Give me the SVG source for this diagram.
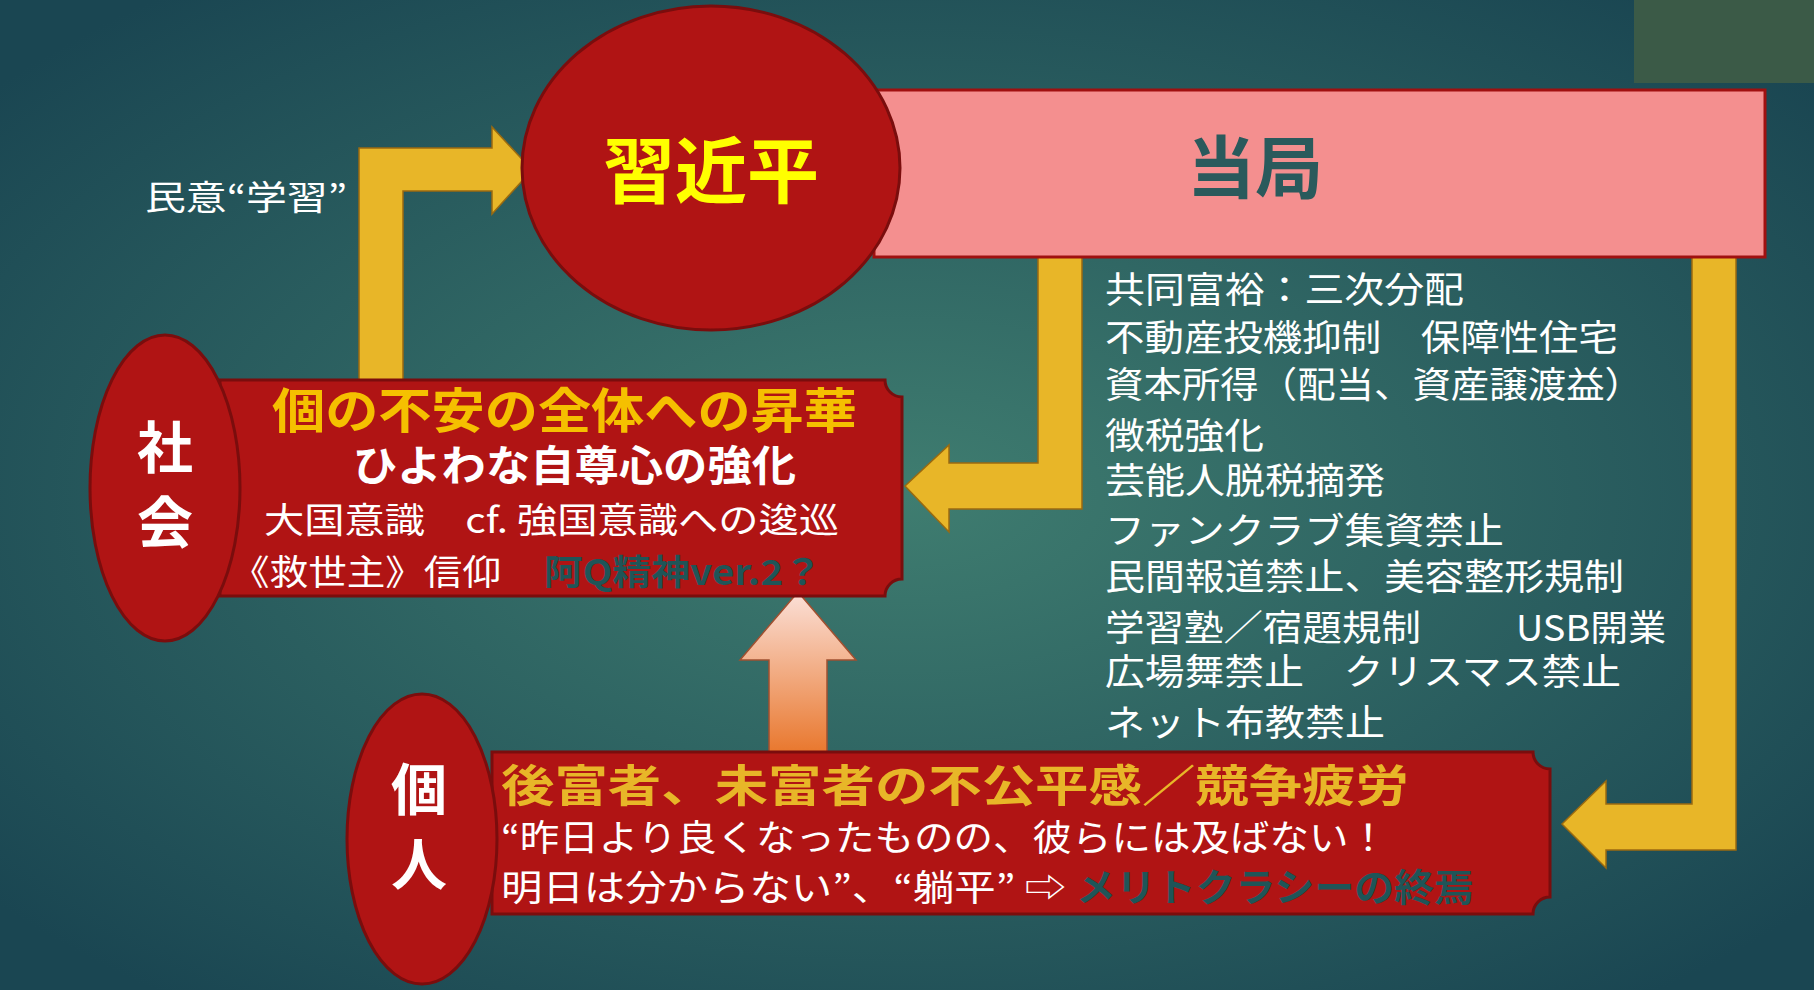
<svg xmlns="http://www.w3.org/2000/svg" width="1814" height="990" viewBox="0 0 1814 990">
<defs>
<radialGradient id="bg" cx="50%" cy="50%" r="65%">
<stop offset="0" stop-color="#3f7d70"/><stop offset="1" stop-color="#1a4652"/>
</radialGradient>
<linearGradient id="up" x1="0" y1="0" x2="0" y2="1">
<stop offset="0" stop-color="#fbe0d8"/><stop offset="1" stop-color="#e87428"/>
</linearGradient>
<style>
.red{fill:#b01414;stroke:#7a0d0d;stroke-width:3}
.yarr{fill:#e8b628;stroke:#9a6a10;stroke-width:1.5}
text{font-family:"Noto Sans CJK JP","Noto Sans CJK SC",sans-serif}
.w{fill:#fff}
.y{fill:#f5c000;font-weight:bold}
.dk{fill:#1f5558;font-weight:bold}
.list{fill:#fff;font-size:36px}
</style>
</defs>
<rect width="1814" height="990" fill="url(#bg)"/>
<rect x="1634" y="0" width="180" height="83" fill="#3b5a47"/>
<g id="connectors">
<path class="yarr" d="M359,380 V148 H492 V127 L532,170 L492,214 V191 H403 V380 Z"/>
<path class="yarr" d="M1038,257 H1082 V509 H949 V532 L905,486 L949,445 V463 H1038 Z"/>
<path class="yarr" d="M1692,257 H1736 V850 H1606 V868 L1562,824 L1606,781 V804 H1692 Z"/>
<path fill="url(#up)" stroke="#a05030" stroke-width="1.5" d="M769,758 V660 H740 L798,592 L856,660 H827 V758 Z"/>
</g>
<g id="dangju">
<rect x="874" y="90" width="891" height="167" fill="#f48f8f" stroke="#a01010" stroke-width="3"/>
<text x="1255" y="193" font-size="68" font-weight="bold" fill="#2a5a5c" text-anchor="middle">当局</text>
</g>
<g id="xi">
<ellipse class="red" cx="711" cy="168" rx="189" ry="162"/>
<text x="711" y="197" font-size="72" font-weight="bold" fill="#ffff00" text-anchor="middle">習近平</text>
</g>
<text x="145" y="210" font-size="34" class="w" textLength="202" lengthAdjust="spacingAndGlyphs">民意“学習”</text>
<g id="shakai-box">
<path class="red" d="M220,380 H885 A17,17 0 0 0 902,397 V579 A17,17 0 0 0 885,596 H220 Z"/>
<text x="272" y="428" font-size="48" class="y" textLength="585" lengthAdjust="spacingAndGlyphs">個の不安の全体への昇華</text>
<text x="353" y="481" font-size="42" font-weight="bold" class="w" textLength="443" lengthAdjust="spacingAndGlyphs">ひよわな自尊心の強化</text>
<text x="264" y="533" font-size="35" class="w" textLength="575" lengthAdjust="spacingAndGlyphs">大国意識　cf. 強国意識への逡巡</text>
<text x="231" y="585" font-size="35" class="w" textLength="270" lengthAdjust="spacingAndGlyphs">《救世主》信仰</text>
<text x="544" y="585" font-size="35" class="dk" textLength="278" lengthAdjust="spacingAndGlyphs">阿Q精神ver.2？</text>
</g>
<g id="shakai">
<ellipse class="red" cx="165" cy="488" rx="75" ry="153"/>
<text x="165" y="468" font-size="56" font-weight="bold" class="w" text-anchor="middle">社</text>
<text x="165" y="543" font-size="56" font-weight="bold" class="w" text-anchor="middle">会</text>
</g>
<g id="kojin-box">
<path class="red" d="M492,752 H1533 A17,17 0 0 0 1550,769 V897 A17,17 0 0 0 1533,914 H492 Z"/>
<text x="501" y="802" font-size="44" class="y" textLength="908" lengthAdjust="spacingAndGlyphs" style="fill:#e8b628">後富者、未富者の不公平感／競争疲労</text>
<text x="501" y="851" font-size="36" class="w" textLength="887" lengthAdjust="spacingAndGlyphs">“昨日より良くなったものの、彼らには及ばない！</text>
<text x="501" y="901" font-size="36" class="w" textLength="565" lengthAdjust="spacingAndGlyphs">明日は分からない”、“躺平” ⇨</text>
<text x="1076" y="901" font-size="38" class="dk" textLength="398" lengthAdjust="spacingAndGlyphs">メリトクラシーの終焉</text>
</g>
<g id="kojin">
<ellipse class="red" cx="422" cy="839" rx="75" ry="145"/>
<text x="419" y="810" font-size="56" font-weight="bold" class="w" text-anchor="middle">個</text>
<text x="419" y="885" font-size="56" font-weight="bold" class="w" text-anchor="middle">人</text>
</g>
<g id="policies" class="list">
<text x="1105" y="303" textLength="359" lengthAdjust="spacingAndGlyphs">共同富裕：三次分配</text>
<text x="1105" y="351" textLength="513" lengthAdjust="spacingAndGlyphs">不動産投機抑制　保障性住宅</text>
<text x="1105" y="398" textLength="538" lengthAdjust="spacingAndGlyphs">資本所得（配当、資産譲渡益）</text>
<text x="1105" y="449" textLength="159" lengthAdjust="spacingAndGlyphs">徴税強化</text>
<text x="1105" y="494" textLength="280" lengthAdjust="spacingAndGlyphs">芸能人脱税摘発</text>
<text x="1105" y="544" textLength="399" lengthAdjust="spacingAndGlyphs">ファンクラブ集資禁止</text>
<text x="1105" y="590" textLength="519" lengthAdjust="spacingAndGlyphs">民間報道禁止、美容整形規制</text>
<text x="1105" y="641" textLength="316" lengthAdjust="spacingAndGlyphs">学習塾／宿題規制</text>
<text x="1516" y="641" textLength="150" lengthAdjust="spacingAndGlyphs">USB開業</text>
<text x="1105" y="685" textLength="516" lengthAdjust="spacingAndGlyphs">広場舞禁止　クリスマス禁止</text>
<text x="1105" y="736" textLength="280" lengthAdjust="spacingAndGlyphs">ネット布教禁止</text>
</g>
</svg>
